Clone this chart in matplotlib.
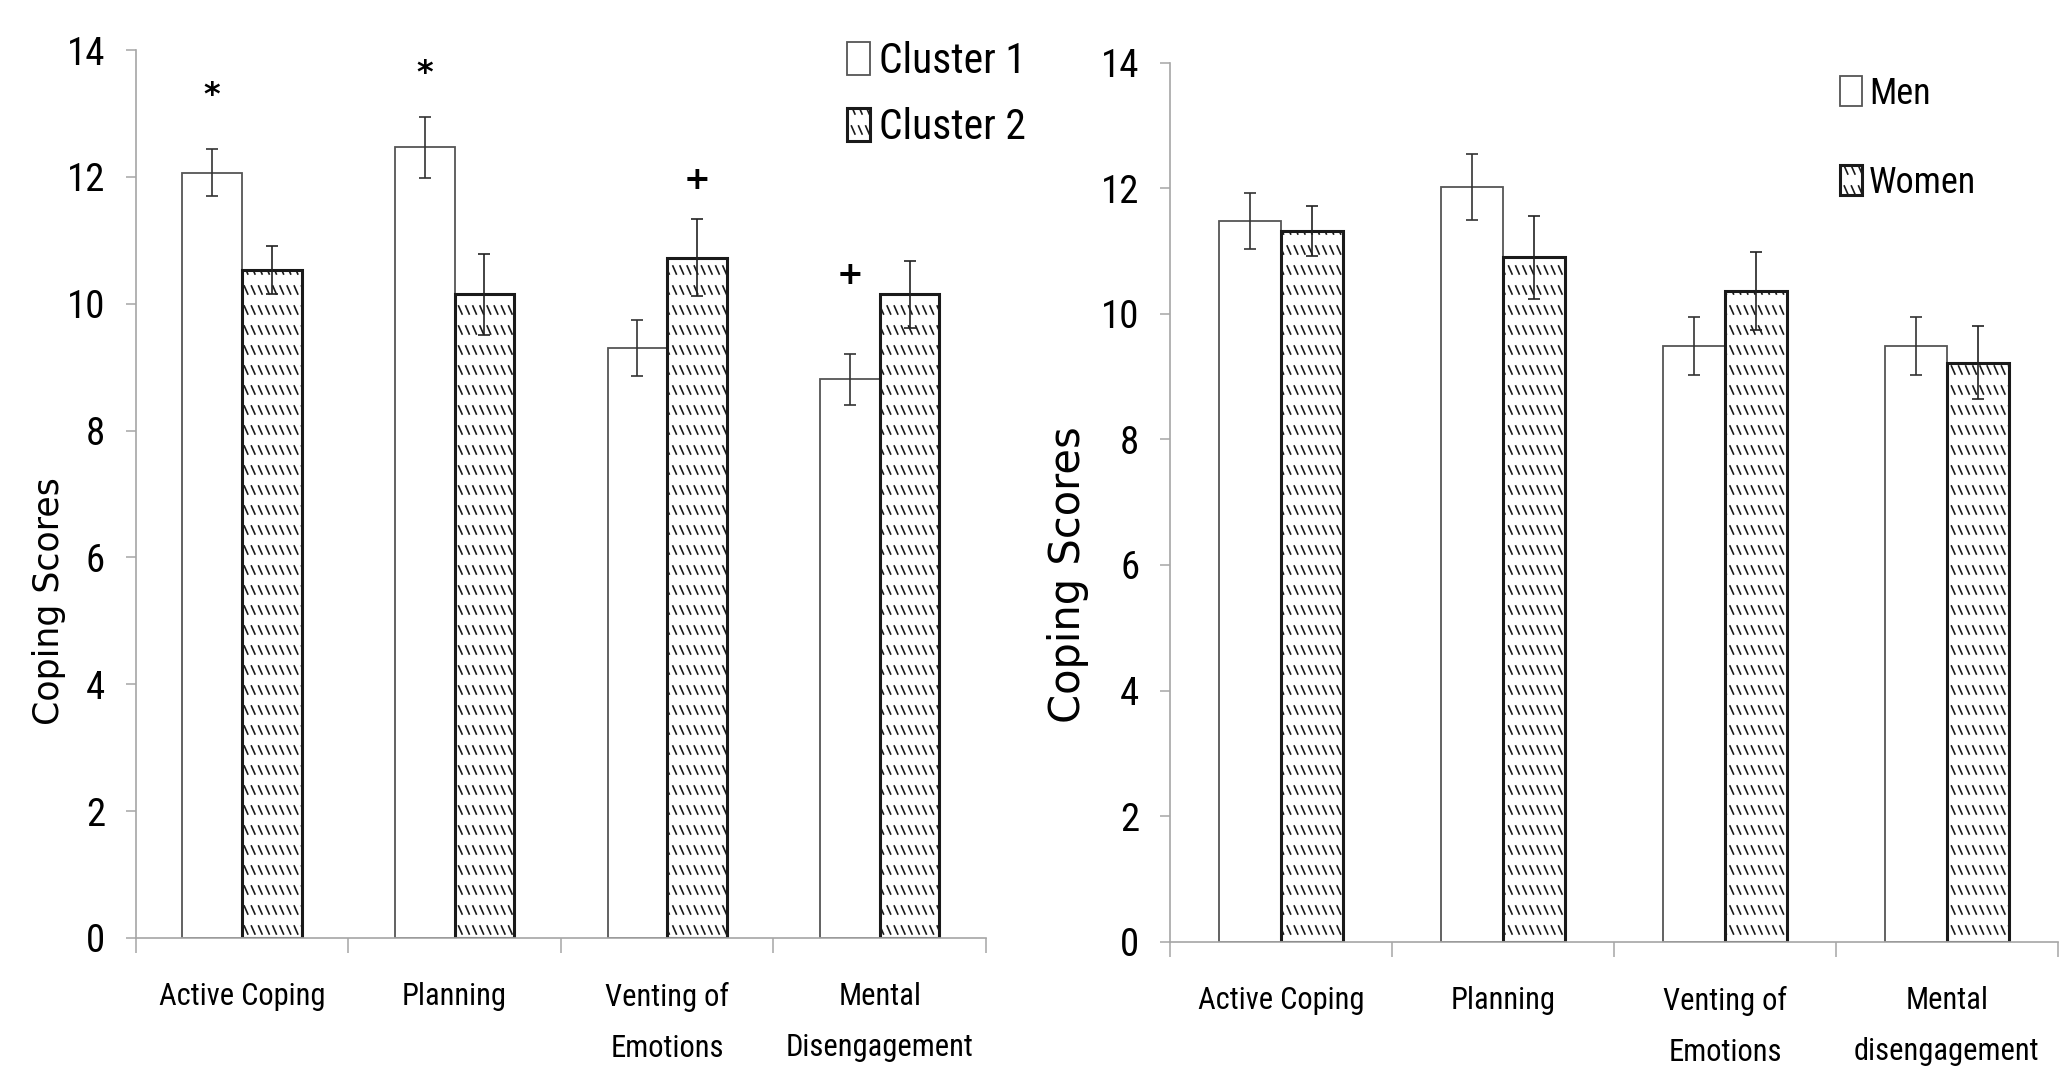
import numpy as np
import matplotlib
matplotlib.use('Agg')
import matplotlib.pyplot as plt
import matplotlib.hatch as mhatch
from matplotlib.path import Path

# data
cats_left = ['Active Coping', 'Planning', 'Venting of\nEmotions', 'Mental\nDisengagement']
cats_right = ['Active Coping', 'Planning', 'Venting of\nEmotions', 'Mental\ndisengagement']

cluster1 = [12.07, 12.47, 9.3, 8.81]
cluster1_err = [0.37, 0.48, 0.44, 0.4]
cluster2 = [10.53, 10.15, 10.73, 10.15]
cluster2_err = [0.38, 0.64, 0.6, 0.53]

men = [11.48, 12.02, 9.49, 9.49]
men_err = [0.44, 0.53, 0.46, 0.46]
women = [11.32, 10.9, 10.36, 9.22]
women_err = [0.4, 0.66, 0.62, 0.58]

# significance marks on left panel: category, series (0/1), symbol, height
sig_cat = [0, 1, 2, 3]
sig_series = [0, 0, 1, 0]
sig_sym = ['*', '*', '+', '+']
sig_y = [13.29, 13.63, 11.95, 10.45]

NARROW = ['Roboto Condensed', 'DejaVu Sans']


# excel-like "rows of little backslashes" fill
class RowDashHatch(mhatch.HatchPatternBase):
    def __init__(self, hatch, density):
        self.rows = 5 if hatch.count('\\') else 0
        self.cols = 14
        self.num_vertices = self.rows * self.cols * 2

    def set_vertices_and_codes(self, vertices, codes):
        ys = (np.arange(self.rows) + 0.5) / self.rows
        xs = (np.arange(self.cols) + 0.2) / self.cols
        X, Y = np.meshgrid(xs, ys)
        X = X.ravel()
        Y = Y.ravel()
        vertices[0::2, 0] = X
        vertices[0::2, 1] = Y + 0.04
        vertices[1::2, 0] = X + 0.035
        vertices[1::2, 1] = Y - 0.04
        codes[0::2] = Path.MOVETO
        codes[1::2] = Path.LINETO


mhatch._hatch_types = [RowDashHatch]
plt.rcParams['hatch.linewidth'] = 1.2


def panel(ax, cats, v1, e1, v2, e2, lab1, lab2):
    x = np.arange(len(cats))
    w = 0.28
    ax.bar(x - w / 2, v1, w, color='white', edgecolor='#555555',
           linewidth=1.3, label=lab1, zorder=2)
    ax.bar(x + w / 2, v2, w, color='white', edgecolor='#1a1a1a',
           linewidth=2.2, hatch='\\', label=lab2, zorder=2)
    ax.errorbar(x - w / 2, v1, yerr=e1, fmt='none', ecolor='#333333',
                elinewidth=1.2, capsize=4.5, capthick=1.2, zorder=3)
    ax.errorbar(x + w / 2, v2, yerr=e2, fmt='none', ecolor='#222222',
                elinewidth=1.2, capsize=4.5, capthick=1.2, zorder=3)

    ax.set_xlim(-0.5, len(cats) - 0.5)
    ax.set_ylim(0, 14)
    ax.set_yticks(np.arange(0, 15, 2))
    ax.set_xticks(x)
    ax.set_xticklabels(cats, fontsize=22, family=NARROW, linespacing=1.95)
    ax.set_xticks(np.arange(-0.5, len(cats)), minor=True)
    ax.tick_params(axis='x', which='major', length=0, pad=32)
    ax.tick_params(axis='x', which='minor', length=11, width=1.1, color='#a6a6a6')
    ax.tick_params(axis='y', length=7, width=1.1, color='#a6a6a6', pad=15)
    for t in ax.get_yticklabels():
        t.set_fontsize(28)
        t.set_family(NARROW)
    for s in ['top', 'right']:
        ax.spines[s].set_visible(False)
    for s in ['left', 'bottom']:
        ax.spines[s].set_color('#a6a6a6')
        ax.spines[s].set_linewidth(1.2)
    return x, w


fig = plt.figure(figsize=(20.62, 10.88), dpi=100)
fig.patch.set_facecolor('white')

axL = fig.add_axes([0.0658, 0.1379, 0.4124, 0.816])
x, w = panel(axL, cats_left, cluster1, cluster1_err, cluster2, cluster2_err,
             'Cluster 1', 'Cluster 2')
axL.set_ylabel('Coping Scores', fontsize=25, family='DejaVu Sans')
axL.yaxis.set_label_coords(-0.082, 0.38)
for c, s, sym, yy in zip(sig_cat, sig_series, sig_sym, sig_y):
    xx = x[c] - w / 2 if s == 0 else x[c] + w / 2
    axL.text(xx, yy, sym, ha='center', va='center', fontsize=23,
             fontweight='bold', family='DejaVu Sans')
axL.legend(loc='upper left', bbox_to_anchor=(0.411, 0.962),
           bbox_transform=fig.transFigure, frameon=False,
           prop={'family': NARROW, 'size': 30}, handlelength=0.55,
           handleheight=0.84, handletextpad=0.2, labelspacing=0.6,
           borderpad=0, borderaxespad=0)

axR = fig.add_axes([0.5674, 0.1345, 0.4306, 0.8079])
panel(axR, cats_right, men, men_err, women, women_err, 'Men', 'Women')
axR.set_ylabel('Coping Scores', fontsize=30, family='DejaVu Sans')
axR.yaxis.set_label_coords(-0.091, 0.417)
axR.legend(loc='upper left', bbox_to_anchor=(0.8923, 0.9304),
           bbox_transform=fig.transFigure, frameon=False,
           prop={'family': NARROW, 'size': 26}, handlelength=0.61,
           handleheight=0.89, handletextpad=0.2, labelspacing=1.47,
           borderpad=0, borderaxespad=0)

fig.savefig('out.png', dpi=100)
